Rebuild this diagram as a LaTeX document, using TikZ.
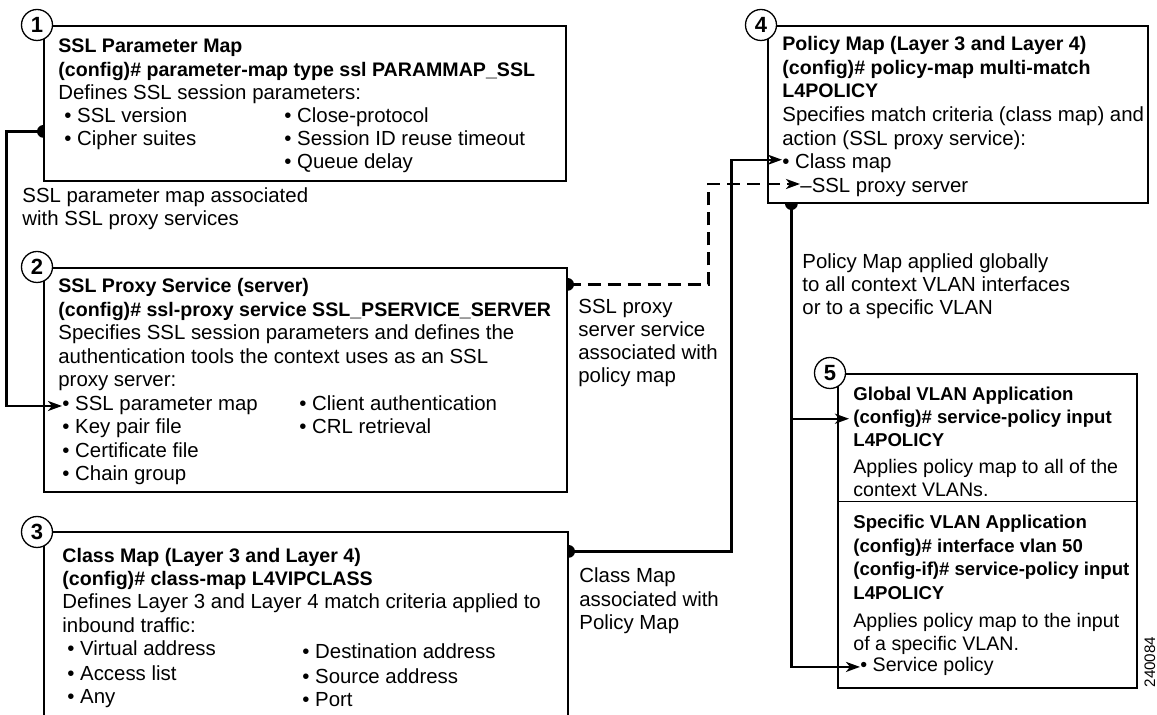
\documentclass[tikz,border=0pt]{standalone}
\usepackage{fontspec}
\setmainfont{Liberation Sans}
\usetikzlibrary{arrows.meta,fit}
\newcommand{\bul}{\textbullet\ }

\begin{document}
\begin{tikzpicture}[x=0.5pt, y=-0.5pt,
    box/.style={draw, line width=0.6pt, inner sep=0pt},
    num/.style={circle, draw, line width=0.65pt, fill=white, minimum size=15.5pt, inner sep=0pt, font=\fontsize{11}{11}\selectfont\bfseries},
    txt/.style={anchor=base west, inner sep=0pt, font=\fontsize{10.2}{12}\selectfont},
    hd/.style={txt, font=\fontsize{9.8}{12}\selectfont\bfseries},
    txtv/.style={txt, font=\fontsize{9.8}{12}\selectfont},
    hdv/.style={txt, font=\fontsize{9.3}{12}\selectfont\bfseries},
    conn/.style={line width=1.2pt},
    arr/.style={-{Stealth[length=7pt, width=5pt, inset=2pt]}}]
    \useasboundingbox (0,0) rectangle (1157,715);
    \clip (0,0) rectangle (1157,715);

    \node[box, fit={(44,26) (566,181)}] (b1) {};
    \node[box, fit={(44,268) (567,492)}] (b2) {};
    \node[box, fit={(44,532) (568,740)}] (b3) {};
    \node[box, fit={(768,26) (1148,203)}] (b4) {};
    \node[box, fit={(838,374) (1137,688)}] (b5) {};
    \draw[line width=0.6pt] ([yshift=-64pt]b5.north west) -- ([yshift=-64pt]b5.north east);

    \node[num] (n1) at (37,25) {1};
    \node[num] (n2) at (37,267) {2};
    \node[num] (n3) at (37,532) {3};
    \node[num] (n4) at (761,25) {4};
    \node[num] (n5) at (830,373) {5};

    \node[hd] (b1t1) at (58,53) {SSL Parameter Map};
    \node[hd] (b1t2) at (58,76.5) {(config)\# parameter-map type ssl PARAMMAP\_SSL};
    \node[txt] (b1t3) at (58,100) {Defines SSL session parameters:};
    \node[txt] (b1i1) at (64,123) {\bul SSL version};
    \node[txt] (b1i2) at (64,146) {\bul Cipher suites};
    \node[txt] (b1i3) at (284,123) {\bul Close-protocol};
    \node[txt] (b1i4) at (284,146) {\bul Session ID reuse timeout};
    \node[txt] (b1i5) at (284,169) {\bul Queue delay};

    \node[hd] (b2t1) at (58,293) {SSL Proxy Service (server)};
    \node[hd] (b2t2) at (58,316.5) {(config)\# ssl-proxy service SSL\_PSERVICE\_SERVER};
    \node[txt] (b2t3) at (58,340) {Specifies SSL session parameters and defines the};
    \node[txt] (b2t4) at (58,363.5) {authentication tools the context uses as an SSL};
    \node[txt] (b2t5) at (58,387) {proxy server:};
    \node[txt] (b2i1) at (62,411) {\bul SSL parameter map};
    \node[txt] (b2i2) at (62,434) {\bul Key pair file};
    \node[txt] (b2i3) at (62,458) {\bul Certificate file};
    \node[txt] (b2i4) at (62,481) {\bul Chain group};
    \node[txt] (b2i5) at (299,411) {\bul Client authentication};
    \node[txt] (b2i6) at (299,434) {\bul CRL retrieval};

    \node[hd] (b3t1) at (62,563) {Class Map (Layer 3 and Layer 4)};
    \node[hd] (b3t2) at (62,586) {(config)\# class-map L4VIPCLASS};
    \node[txt] (b3t3) at (62,609) {Defines Layer 3 and Layer 4 match criteria applied to};
    \node[txt] (b3t4) at (62,633) {inbound traffic:};
    \node[txt] (b3i1) at (67,656) {\bul Virtual address};
    \node[txt] (b3i2) at (67,681) {\bul Access list};
    \node[txt] (b3i3) at (67,704) {\bul Any};
    \node[txt] (b3i4) at (302,659) {\bul Destination address};
    \node[txt] (b3i5) at (302,683) {\bul Source address};
    \node[txt] (b3i6) at (302,707) {\bul Port};

    \node[hd] (b4t1) at (782,51) {Policy Map (Layer 3 and Layer 4)};
    \node[hd] (b4t2) at (782,74.5) {(config)\# policy-map multi-match};
    \node[hd] (b4t3) at (782,98) {L4POLICY};
    \node[txt] (b4t4) at (782,122) {Specifies match criteria (class map) and};
    \node[txt] (b4t5) at (782,145.5) {action (SSL proxy service):};
    \node[txt] (b4i1) at (782,169) {\bul Class map};
    \node[txt] (b4i2) at (800,193) {--SSL proxy server};

    \node[hdv] (b5t1) at (853,401) {Global VLAN Application};
    \node[hdv] (b5t2) at (853,423.5) {(config)\# service-policy input};
    \node[hdv] (b5t3) at (853,446.5) {L4POLICY};
    \node[txtv] (b5t4) at (853,474) {Applies policy map to all of the};
    \node[txtv] (b5t5) at (853,497) {context VLANs.};
    \node[hdv] (b5t6) at (853,529) {Specific VLAN Application};
    \node[hdv] (b5t7) at (853,552.5) {(config)\# interface vlan 50};
    \node[hdv] (b5t8) at (853,576) {(config-if)\# service-policy input};
    \node[hdv] (b5t9) at (853,599.5) {L4POLICY};
    \node[txtv] (b5t10) at (853,628) {Applies policy map to the input};
    \node[txtv] (b5t11) at (853,650.5) {of a specific VLAN.};
    \node[txtv] (b5i1) at (860,672) {\bul Service policy};

    \node[txt] (l1a) at (22,203) {SSL parameter map associated};
    \node[txt] (l1b) at (22,226) {with SSL proxy services};
    \node[txt] (l2a) at (578,314) {SSL proxy};
    \node[txt] (l2b) at (578,337) {server service};
    \node[txt] (l2c) at (578,360) {associated with};
    \node[txt] (l2d) at (578,383) {policy map};
    \node[txt] (l3a) at (579,583) {Class Map};
    \node[txt] (l3b) at (579,606.5) {associated with};
    \node[txt] (l3c) at (579,630) {Policy Map};
    \node[txt] (l4a) at (802,269) {Policy Map applied globally};
    \node[txt] (l4b) at (802,292) {to all context VLAN interfaces};
    \node[txt] (l4c) at (802,315) {or to a specific VLAN};
    \node[rotate=90, inner sep=0pt, font=\fontsize{7.6}{8}\selectfont] (fig) at (1150,662) {240084};

    \coordinate (s1) at ([yshift=-53pt]b1.north west);
    \coordinate (s2) at ([yshift=-8.5pt]b2.north east);
    \coordinate (s3) at ([yshift=-10pt]b3.north east);
    \coordinate (s4) at ([xshift=12pt]b4.south west);

    \draw[conn, arr] (s1) -- ++(-37,0) |- (b2i1.west);
    \draw[conn, arr, dash pattern=on 6.5pt off 3.5pt] (s2) -- ++(141,0) |- ([yshift=2pt]b4i2.west);
    \draw[conn, arr] (s3) -- ++(163,0) |- ([yshift=2pt]b4i1.west);
    \draw[conn, arr] (s4) |- (b5i1.west);
    \draw[conn, arr] (s4 |- b5t2.west) -- ([xshift=-2pt]b5t2.west);

    \fill ([yshift=3.2pt]s1) arc[start angle=90, end angle=270, radius=3.2pt] -- cycle;
    \fill ([yshift=-3.2pt]s2) arc[start angle=-90, end angle=90, radius=3.2pt] -- cycle;
    \fill ([yshift=-3.2pt]s3) arc[start angle=-90, end angle=90, radius=3.2pt] -- cycle;
    \fill ([xshift=3.2pt]s4) arc[start angle=0, end angle=-180, radius=3.2pt] -- cycle;
\end{tikzpicture}
\end{document}
